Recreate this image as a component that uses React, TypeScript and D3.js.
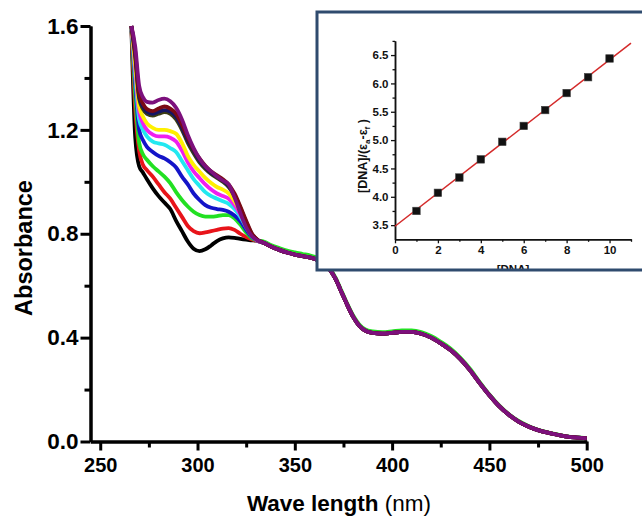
import { useEffect, useRef } from "react";
import * as d3 from "d3";

// titration spectra, 266-331 nm (where the curves differ)
const wavelengths = [266, 268, 270, 272, 274, 277, 280, 283, 286, 289, 292, 295, 298, 301, 304, 307, 310, 313, 316, 319, 322, 325, 328, 331];
const blackAbs = [1.6, 1.17, 1.06, 1.035, 1.01, 0.975, 0.945, 0.92, 0.895, 0.85, 0.81, 0.77, 0.742, 0.733, 0.74, 0.755, 0.772, 0.782, 0.786, 0.784, 0.78, 0.777, 0.775, 0.772];
const redAbs = [1.6, 1.28, 1.12, 1.065, 1.045, 1.02, 0.99, 0.96, 0.935, 0.9, 0.865, 0.83, 0.81, 0.802, 0.805, 0.81, 0.815, 0.82, 0.822, 0.815, 0.8, 0.787, 0.778, 0.772];
const greenAbs = [1.6, 1.33, 1.15, 1.105, 1.085, 1.06, 1.04, 1.02, 0.995, 0.96, 0.93, 0.905, 0.885, 0.872, 0.866, 0.866, 0.868, 0.872, 0.872, 0.86, 0.835, 0.805, 0.782, 0.774];
const blueAbs = [1.6, 1.38, 1.2, 1.16, 1.135, 1.115, 1.1, 1.09, 1.075, 1.055, 1.02, 0.99, 0.955, 0.93, 0.91, 0.9, 0.895, 0.892, 0.885, 0.87, 0.848, 0.815, 0.787, 0.773];
const cyanAbs = [1.6, 1.41, 1.24, 1.2, 1.175, 1.155, 1.148, 1.143, 1.13, 1.115, 1.08, 1.045, 1.01, 0.985, 0.96, 0.945, 0.935, 0.925, 0.915, 0.895, 0.865, 0.825, 0.79, 0.773];
const magentaAbs = [1.6, 1.43, 1.27, 1.225, 1.2, 1.182, 1.175, 1.175, 1.17, 1.155, 1.12, 1.075, 1.04, 1.015, 0.99, 0.97, 0.955, 0.945, 0.935, 0.91, 0.875, 0.83, 0.792, 0.773];
const yellowAbs = [1.6, 1.45, 1.29, 1.25, 1.225, 1.208, 1.2, 1.2, 1.195, 1.185, 1.15, 1.1, 1.065, 1.04, 1.015, 0.995, 0.98, 0.97, 0.955, 0.925, 0.885, 0.835, 0.795, 0.774];
const oliveAbs = [1.6, 1.48, 1.32, 1.28, 1.262, 1.255, 1.262, 1.268, 1.262, 1.24, 1.2, 1.15, 1.11, 1.075, 1.05, 1.03, 1.015, 1.0, 0.98, 0.945, 0.895, 0.84, 0.797, 0.775];
const navyAbs = [1.6, 1.49, 1.33, 1.29, 1.27, 1.262, 1.27, 1.276, 1.27, 1.25, 1.21, 1.16, 1.12, 1.082, 1.056, 1.035, 1.02, 1.005, 0.985, 0.95, 0.9, 0.845, 0.798, 0.775];
const maroonAbs = [1.6, 1.5, 1.34, 1.3, 1.28, 1.272, 1.282, 1.29, 1.282, 1.262, 1.22, 1.17, 1.125, 1.09, 1.062, 1.04, 1.025, 1.01, 0.99, 0.955, 0.905, 0.85, 0.8, 0.776];
const purpleAbs = [1.6, 1.52, 1.37, 1.325, 1.308, 1.305, 1.315, 1.32, 1.31, 1.285, 1.24, 1.18, 1.13, 1.09, 1.06, 1.04, 1.02, 1.005, 0.99, 0.94, 0.88, 0.825, 0.79, 0.774];

// shared part past the isosbestic point (green sits a hair above the rest)
const tailWavelengths = [334, 338, 342, 346, 350, 354, 358, 362, 365, 368, 371, 374, 377, 380, 383, 386, 390, 395, 400, 405, 410, 415, 420, 425, 430, 435, 440, 445, 450, 455, 460, 465, 470, 475, 480, 485, 490, 495, 500];
const tailAbs = [0.765, 0.75, 0.738, 0.728, 0.72, 0.714, 0.708, 0.698, 0.685, 0.662, 0.625, 0.575, 0.525, 0.48, 0.447, 0.428, 0.418, 0.415, 0.418, 0.422, 0.422, 0.415, 0.4, 0.378, 0.352, 0.318, 0.275, 0.225, 0.178, 0.136, 0.103, 0.077, 0.058, 0.044, 0.034, 0.026, 0.019, 0.015, 0.012];
const greenTailAbs = [0.77, 0.756, 0.745, 0.735, 0.728, 0.722, 0.716, 0.706, 0.692, 0.668, 0.63, 0.58, 0.53, 0.485, 0.452, 0.433, 0.424, 0.421, 0.424, 0.428, 0.428, 0.421, 0.406, 0.384, 0.358, 0.323, 0.28, 0.229, 0.181, 0.139, 0.105, 0.079, 0.06, 0.045, 0.035, 0.027, 0.02, 0.016, 0.013];

const seriesAbs = [blackAbs, redAbs, greenAbs, blueAbs, cyanAbs, magentaAbs, yellowAbs, oliveAbs, navyAbs, maroonAbs, purpleAbs];
const seriesTails = [tailAbs, tailAbs, greenTailAbs, tailAbs, tailAbs, tailAbs, tailAbs, tailAbs, tailAbs, tailAbs, tailAbs];
const seriesColors = ["#000000", "#e8141a", "#22e022", "#1414c8", "#22e8f0", "#f020f0", "#fff000", "#3c3c14", "#141464", "#7a0a14", "#7c107c"];

// inset: binding plot
const dnaConc = [1, 2, 3, 4, 5, 6, 7, 8, 9, 10];
const dnaRatio = [3.75, 4.07, 4.34, 4.66, 4.97, 5.25, 5.53, 5.83, 6.11, 6.44];
const fitX = [0, 11];
const fitY = [3.48, 6.71];

const font = "'Liberation Sans', Arial, sans-serif";

export default function App() {
  const ref = useRef<HTMLDivElement>(null);

  useEffect(() => {
    const container = d3.select(ref.current);
    container.selectAll("*").remove();

    const width = 642;
    const height = 516;

    const svg = container
      .append("svg")
      .attr("width", width)
      .attr("height", height)
      .style("position", "absolute")
      .style("left", "0px")
      .style("top", "0px")
      .style("background", "#fff");

    const x = d3.scaleLinear().domain([245, 500]).range([90.5, 586.7]);
    const y = d3.scaleLinear().domain([0, 1.6]).range([441.5, 26]);

    // curves
    const line = d3
      .line<[number, number]>()
      .x((d) => x(d[0]))
      .y((d) => y(d[1]))
      .curve(d3.curveMonotoneX);

    seriesAbs.forEach((vals, i) => {
      const pts: [number, number][] = wavelengths.map((w, j) => [w, vals[j]]);
      const tail = seriesTails[i];
      tailWavelengths.forEach((w, j) => pts.push([w, tail[j]]));
      svg
        .append("path")
        .attr("d", line(pts))
        .attr("fill", "none")
        .attr("stroke", seriesColors[i])
        .attr("stroke-width", 3.8)
        .attr("stroke-linejoin", "round");
    });

    // main axes
    const styleAxis = (g: any, size: number) => {
      g.select(".domain").attr("stroke", "#000").attr("stroke-width", 3);
      g.selectAll(".tick line").attr("stroke", "#000").attr("stroke-width", 3);
      g.selectAll("text")
        .attr("fill", "#000")
        .style("font-family", font)
        .style("font-weight", "bold")
        .style("font-size", size + "px");
    };

    const xAxis = svg
      .append("g")
      .attr("transform", `translate(0,${y(0)})`)
      .call(
        d3.axisBottom(x).tickValues([250, 300, 350, 400, 450, 500]).tickFormat(d3.format("d")).tickSize(9).tickSizeOuter(0).tickPadding(7)
      );
    styleAxis(xAxis, 20);
    const xMinor = svg
      .append("g")
      .attr("transform", `translate(0,${y(0)})`)
      .call(d3.axisBottom(x).tickValues([275, 325, 375, 425, 475]).tickFormat(() => "").tickSize(6).tickSizeOuter(0));
    styleAxis(xMinor, 20);

    const yAxis = svg
      .append("g")
      .attr("transform", `translate(${x(245)},0)`)
      .call(
        d3.axisLeft(y).tickValues([0, 0.4, 0.8, 1.2, 1.6]).tickFormat(d3.format(".1f")).tickSize(10).tickSizeOuter(0).tickPadding(2)
      );
    styleAxis(yAxis, 22.5);
    const yMinor = svg
      .append("g")
      .attr("transform", `translate(${x(245)},0)`)
      .call(d3.axisLeft(y).tickValues([0.2, 0.6, 1.0, 1.4]).tickFormat(() => "").tickSize(6).tickSizeOuter(0));
    styleAxis(yMinor, 22);

    // axis titles
    const xTitle = svg
      .append("text")
      .attr("x", 339)
      .attr("y", 511)
      .attr("text-anchor", "middle")
      .style("font-family", font)
      .style("font-size", "22.5px");
    xTitle.append("tspan").style("font-weight", "bold").text("Wave length");
    xTitle.append("tspan").text(" (nm)");

    svg
      .append("text")
      .attr("transform", "translate(32,248) rotate(-90)")
      .attr("text-anchor", "middle")
      .style("font-family", font)
      .style("font-weight", "bold")
      .style("font-size", "23.5px")
      .text("Absorbance");

    // inset
    const boxColor = "#2f4b6e";
    svg.append("rect").attr("x", 317).attr("y", 12).attr("width", 340).attr("height", 258).attr("fill", "#fff");

    svg
      .append("clipPath")
      .attr("id", "insetClip")
      .append("rect")
      .attr("x", 317)
      .attr("y", 12)
      .attr("width", 340)
      .attr("height", 257);
    const inset = svg.append("g").attr("clip-path", "url(#insetClip)");

    const xi = d3.scaleLinear().domain([0, 11]).range([395, 631]);
    const yi = d3.scaleLinear().domain([3.25, 6.75]).range([239.3, 40.9]);

    const styleInset = (g: any) => {
      g.select(".domain").attr("stroke", "#111").attr("stroke-width", 1.5);
      g.selectAll(".tick line").attr("stroke", "#111").attr("stroke-width", 1.3);
      g.selectAll("text")
        .attr("fill", "#111")
        .style("font-family", font)
        .style("font-weight", "bold")
        .style("font-size", "11.5px");
    };

    styleInset(
      inset
        .append("g")
        .attr("transform", `translate(0,${yi(3.25)})`)
        .call(d3.axisBottom(xi).tickValues([0, 2, 4, 6, 8, 10]).tickFormat(d3.format("d")).tickSize(4).tickSizeOuter(0).tickPadding(3))
    );
    styleInset(
      inset
        .append("g")
        .attr("transform", `translate(0,${yi(3.25)})`)
        .call(d3.axisBottom(xi).tickValues([1, 3, 5, 7, 9, 11]).tickFormat(() => "").tickSize(2.5).tickSizeOuter(0))
    );
    styleInset(
      inset
        .append("g")
        .attr("transform", `translate(${xi(0)},0)`)
        .call(
          d3.axisLeft(yi).tickValues([3.5, 4.0, 4.5, 5.0, 5.5, 6.0, 6.5]).tickFormat(d3.format(".1f")).tickSize(4).tickSizeOuter(0).tickPadding(2.5)
        )
    );
    styleInset(
      inset
        .append("g")
        .attr("transform", `translate(${xi(0)},0)`)
        .call(d3.axisLeft(yi).tickValues([3.75, 4.25, 4.75, 5.25, 5.75, 6.25, 6.75]).tickFormat(() => "").tickSize(2.5).tickSizeOuter(0))
    );

    inset
      .append("line")
      .attr("x1", xi(fitX[0]))
      .attr("y1", yi(fitY[0]))
      .attr("x2", xi(fitX[1]))
      .attr("y2", yi(fitY[1]))
      .attr("stroke", "#d42a2a")
      .attr("stroke-width", 1.5);

    inset
      .selectAll("rect.pt")
      .data(dnaConc)
      .enter()
      .append("rect")
      .attr("class", "pt")
      .attr("x", (d) => xi(d) - 3.75)
      .attr("y", (d, i) => yi(dnaRatio[i]) - 3.75)
      .attr("width", 7.5)
      .attr("height", 7.5)
      .attr("fill", "#111")
      .attr("stroke", "#444")
      .attr("stroke-width", 0.6);

    // subscripts via dy, baseline-shift is flaky on rotated text
    const yiTitle = inset
      .append("text")
      .attr("transform", "translate(367,156) rotate(-90)")
      .attr("text-anchor", "middle")
      .attr("fill", "#111")
      .style("font-family", font)
      .style("font-weight", "bold")
      .style("font-size", "12.5px");
    yiTitle.append("tspan").text("[DNA]/(\u03b5");
    yiTitle.append("tspan").attr("dy", 3).style("font-size", "8px").text("a");
    yiTitle.append("tspan").attr("dy", -3).text("-\u03b5");
    yiTitle.append("tspan").attr("dy", 3).style("font-size", "8px").text("f");
    yiTitle.append("tspan").attr("dy", -3).text(" )");

    inset
      .append("text")
      .attr("x", 513)
      .attr("y", 273)
      .attr("text-anchor", "middle")
      .attr("fill", "#111")
      .style("font-family", font)
      .style("font-weight", "bold")
      .style("font-size", "11.5px")
      .text("[DNA]");

    svg
      .append("rect")
      .attr("x", 317)
      .attr("y", 12)
      .attr("width", 340)
      .attr("height", 258)
      .attr("fill", "none")
      .attr("stroke", boxColor)
      .attr("stroke-width", 3);
  }, []);

  return <div ref={ref} />;
}
